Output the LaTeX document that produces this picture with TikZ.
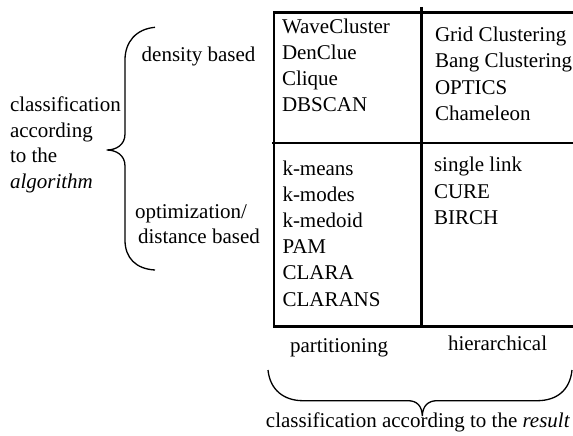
\documentclass[tikz,border=0pt]{standalone}
\usepackage{fontspec}
\setmainfont{Liberation Serif}
\begin{document}
\begin{tikzpicture}[x=1pt,y=-1pt,
  lbl/.style={anchor=base west,inner sep=0pt,outer sep=0pt,font=\fontsize{21}{24}\selectfont},
  gridline/.style={line width=2.6pt},
  bracestyle/.style={line width=1.3pt}]
\useasboundingbox (0,0) rectangle (573,436);
% table
\draw[gridline] (274,12.7) rectangle (590,326.7);
\draw[gridline] (421.7,7) -- (421.7,326.7);
\draw[gridline] (272,143) -- (590,143);
% upper left cell
\foreach \t [count=\i from 0] in {WaveCluster,DenClue,Clique,DBSCAN}
  \node[lbl] (ul\i) at (282,33.3+26.2*\i) {\t};
% upper right cell
\foreach \t [count=\i from 0] in {Grid Clustering,Bang Clustering,OPTICS,Chameleon}
  \node[lbl] (ur\i) at (435,41.7+26.3*\i) {\t};
% lower left cell
\foreach \t [count=\i from 0] in {k-means,k-modes,k-medoid,PAM,CLARA,CLARANS}
  \node[lbl] (ll\i) at (282.5,175+26.2*\i) {\t};
% lower right cell
\foreach \t [count=\i from 0] in {single link,CURE,BIRCH}
  \node[lbl] (lr\i) at (434,171.7+26.3*\i) {\t};
% column labels
\node[lbl] (part) at (290,352) {partitioning};
\node[lbl] (hier) at (448,350.5) {hierarchical};
% row labels
\node[lbl] (dens) at (141.7,61.7) {density based};
\node[lbl] (opt1) at (135,218.5) {optimization/};
\node[lbl] (opt2) at (138,243) {distance based};
% left classification
\node[lbl] (alg1) at (10,111.5) {classification};
\node[lbl] (alg2) at (10,137) {according};
\node[lbl] (alg3) at (10,162.5) {to the};
\node[lbl] (alg4) at (10,188) {\textit{algorithm}};
% bottom classification
\node[lbl,anchor=base] (res) at (418,427) {classification according to the \textit{result}};
% left brace
\draw[bracestyle] (155,27.3) .. controls (136,29) and (125,42) .. (125,60)
  -- (125,134) .. controls (125,145) and (116,150) .. (106.7,150)
  .. controls (116,150) and (125,155) .. (125,166)
  -- (125,240) .. controls (125,258) and (136,269) .. (155,270);
% bottom brace
\draw[bracestyle] (268,370) .. controls (270,390) and (284,400.7) .. (303,400.7)
  -- (408,400.7) .. controls (417,400.7) and (422,406) .. (422.3,416)
  .. controls (422.6,406) and (428,400.7) .. (437,400.7)
  -- (537,400.7) .. controls (557,400.7) and (570,390) .. (572,370);
\end{tikzpicture}
\end{document}
